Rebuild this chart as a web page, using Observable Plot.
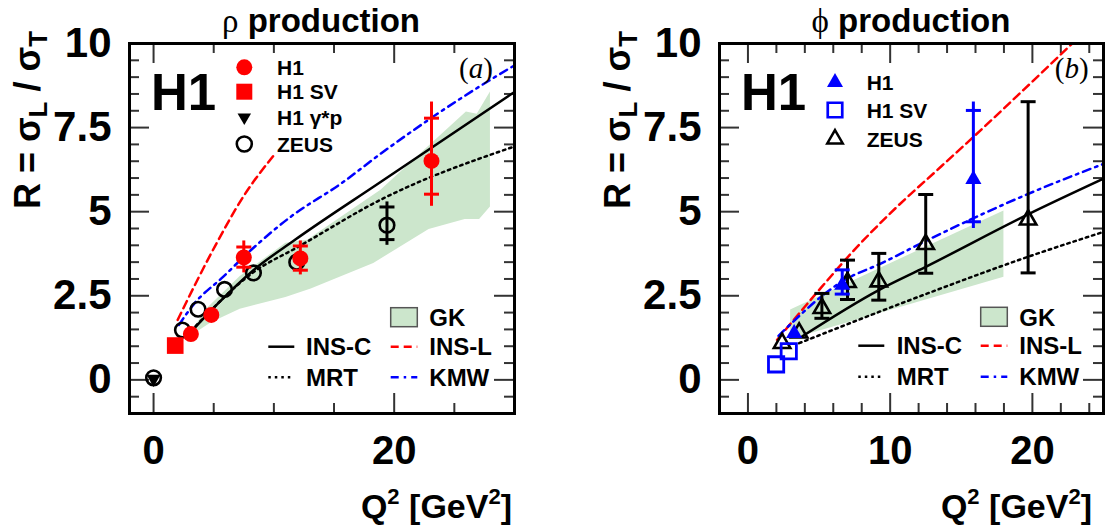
<!DOCTYPE html>
<html><head><meta charset="utf-8">
<script src="https://cdn.jsdelivr.net/npm/d3@7"></script>
<script src="https://cdn.jsdelivr.net/npm/@observablehq/plot@0.6"></script>
<style>
body{margin:0;background:#fff;}
#wrap{position:relative;width:1107px;height:529px;overflow:hidden;background:#fff;}
#wrap svg{position:absolute;top:0;}
</style></head><body><div id="wrap"></div>
<script>
// ---------------- Panel (a): rho production ----------------
const rhoH1Q2      = [3.1, 4.8, 7.5, 12.2, 23.1];
const rhoH1R       = [1.36, 1.93, 3.64, 3.61, 6.51];
const rhoH1StatLo  = [null, null, 3.35, 3.26, 5.52];
const rhoH1StatHi  = [null, null, 3.95, 3.98, 7.78];
const rhoH1TotLo   = [null, null, 3.18, 3.12, 5.16];
const rhoH1TotHi   = [null, null, 4.13, 4.13, 8.26];
const rhoSVQ2 = [1.8];
const rhoSVR  = [1.02];
const rhoGpQ2 = [0];
const rhoGpR  = [0.03];
const rhoZeusQ2     = [0, 2.4, 3.7, 5.9, 8.3, 11.9, 19.4];
const rhoZeusR      = [0.06, 1.48, 2.1, 2.69, 3.18, 3.5, 4.6];
const rhoZeusStatLo = [null, null, null, null, null, null, 4.17];
const rhoZeusStatHi = [null, null, null, null, null, null, 5.14];
const rhoZeusTotLo  = [null, null, null, null, null, null, 4.0];
const rhoZeusTotHi  = [null, null, null, null, null, null, 5.29];
const rhoInsCQ2 = [3.3, 5.3, 8.3, 11.7, 18.9, 30];
const rhoInsCR  = [1.5, 2.25, 3.26, 4.15, 5.89, 8.56];
const rhoMrtQ2  = [3.5, 8.3, 12, 18.9, 30];
const rhoMrtR   = [1.6, 3.2, 3.95, 5.36, 6.94];
const rhoInsLQ2 = [2.0, 5.1, 7.5, 10];
const rhoInsLR  = [1.78, 3.97, 5.47, 6.68];
const rhoKmwQ2  = [2.1, 3.3, 5.8, 8.1, 11.4, 15.6, 18.9, 27.9, 30];
const rhoKmwR   = [1.63, 2.23, 3.07, 3.86, 4.85, 5.84, 6.73, 8.9, 9.35];
const rhoGkUpQ2 = [3.1, 4.4, 7.2, 11, 12.8, 18.9, 22.5, 26, 26.9, 28];
const rhoGkUpR  = [1.4, 2.1, 3.07, 4.06, 4.15, 5.64, 6.82, 7.96, 7.9, 8.56];
const rhoGkLoQ2 = [3.1, 4.8, 7.2, 11, 13.1, 18.3, 22.9, 25.9, 27.1, 28];
const rhoGkLoR  = [1.3, 1.7, 2.1, 2.45, 2.7, 3.46, 4.47, 4.77, 4.77, 5.14];

// ---------------- Panel (b): phi production ----------------
const phiH1Q2     = [3.25, 6.63, 15.85];
const phiH1R      = [1.38, 2.82, 5.96];
const phiH1StatLo = [null, 2.55, 4.7];
const phiH1StatHi = [null, 3.27, 8.01];
const phiH1TotLo  = [null, 2.55, 4.5];
const phiH1TotHi  = [null, 3.27, 8.26];
const phiSVQ2 = [1.98, 2.87];
const phiSVR  = [0.46, 0.85];
const phiZeusQ2 = [2.4, 3.6, 5.2, 7.0, 9.2, 12.5, 19.7];
const phiZeusR  = [1.09, 1.40, 2.13, 2.90, 2.92, 4.03, 4.76];
const phiZeusLo = [null, null, 1.83, 2.39, 2.37, 3.17, 3.18];
const phiZeusHi = [null, null, 2.57, 3.56, 3.76, 5.51, 8.27];
const phiInsCQ2 = [3.8, 9.2, 12.5, 19.7, 25];
const phiInsCR  = [1.29, 2.67, 3.36, 4.92, 5.98];
const phiMrtQ2  = [3.6, 12.5, 19.7, 25];
const phiMrtR   = [1.09, 2.55, 3.66, 4.4];
const phiInsLQ2 = [2.05, 5.1, 7.45, 10, 13.6, 16, 19.4, 22.8];
const phiInsLR  = [1.19, 2.72, 3.85, 4.95, 6.35, 7.28, 8.63, 10.0];
const phiKmwQ2  = [2.15, 6.8, 9.3, 12.6, 20.1, 25];
const phiKmwR   = [1.31, 2.97, 3.45, 4.15, 5.6, 6.42];
const phiGkUpQ2 = [3.0, 18.0];
const phiGkUpR  = [2.08, 5.02];
const phiGkLoQ2 = [3.0, 18.0];
const phiGkLoR  = [1.2, 3.05];

// tick values
const yLabelTicks = [0, 2.5, 5, 7.5, 10];
const rhoXLabelTicks = [0, 20];
const phiXLabelTicks = [0, 10, 20];

// ---------------- helpers ----------------
const SANS = "'Liberation Sans', Arial, Helvetica, sans-serif";
const SERIF = "'Liberation Serif', 'Times New Roman', serif";
const RED = "#ff0000", BLUE = "#0000ff", GREEN = "#cce6cc";
const zip = (q, r, o = {}) => q.map((d, i) => {
  const row = {q: d, r: r[i]};
  for (const k in o) row[k] = o[k][i];
  return row;
});
const pts = (q, r) => q.map((d, i) => ({q: d, r: r[i]}));
const hcap = {draw(ctx, size) { const w = Math.sqrt(size / Math.PI); ctx.moveTo(-w, 0); ctx.lineTo(w, 0); }};

function errMarks(data, color) {
  const withTot = data.filter(d => d.tLo != null);
  const withStat = data.filter(d => d.sLo != null);
  return [
    Plot.ruleX(withTot, {x: "q", y1: "tLo", y2: "tHi", stroke: color, strokeWidth: 3}),
    Plot.dot(withStat, {x: "q", y: "sLo", symbol: hcap, r: 7.5, stroke: color, strokeWidth: 3, fill: "none"}),
    Plot.dot(withStat, {x: "q", y: "sHi", symbol: hcap, r: 7.5, stroke: color, strokeWidth: 3, fill: "none"})
  ];
}
function curveMarks(c) {
  return [
    Plot.line(c.insC, {x: "q", y: "r", stroke: "black", strokeWidth: 2.5, curve: "monotone-x", clip: true}),
    Plot.line(c.mrt, {x: "q", y: "r", stroke: "black", strokeWidth: 2.5, strokeDasharray: "2.5,4", curve: "monotone-x", clip: true}),
    Plot.line(c.insL, {x: "q", y: "r", stroke: RED, strokeWidth: 2.5, strokeDasharray: "8,5", curve: "monotone-x", clip: true}),
    Plot.line(c.kmw, {x: "q", y: "r", stroke: BLUE, strokeWidth: 2.5, strokeDasharray: "8,5,2.5,5", curve: "monotone-x", clip: true})
  ];
}

function panel(cfg) {
  const H = 529;
  const fh = H - cfg.mt - cfg.mb, fw = cfg.width - cfg.ml - cfg.mr;
  const ts = {stroke: "#333", strokeWidth: 2};
  const yMinor = d3.range(-0.5, 10, 0.5).filter(v => Math.abs(v % 2.5) > 1e-9);
  const yMajor = [0, 2.5, 5, 7.5];
  const gk = cfg.gkUp.map((u, i) => ({x1: u.q, y1: u.r, x2: cfg.gkLo[i].q, y2: cfg.gkLo[i].r}));
  const marks = [
    Plot.area(gk, {x1: "x1", y1: "y1", x2: "x2", y2: "y2", fill: GREEN, curve: "linear"}),
    Plot.tickX(cfg.xMajor, {x: d => d, insetTop: fh - 20, ...ts}),
    Plot.tickX(cfg.xMajor, {x: d => d, insetBottom: fh - 20, ...ts}),
    Plot.tickX(cfg.xMinor, {x: d => d, insetTop: fh - 10, ...ts}),
    Plot.tickX(cfg.xMinor, {x: d => d, insetBottom: fh - 10, ...ts}),
    Plot.tickY(yMajor, {y: d => d, insetRight: fw - 20, ...ts}),
    Plot.tickY(yMajor, {y: d => d, insetLeft: fw - 20, ...ts}),
    Plot.tickY(yMinor, {y: d => d, insetRight: fw - 10, ...ts}),
    Plot.tickY(yMinor, {y: d => d, insetLeft: fw - 10, ...ts}),
    ...curveMarks(cfg.curves),
    ...cfg.data,
    Plot.frame({stroke: "black", strokeWidth: 3}),
    Plot.axisX({ticks: cfg.xLabels, tickSize: 0, tickPadding: 22, fontSize: 40, fontWeight: "bold", label: null, tickFormat: d => String(d)}),
    Plot.axisY({ticks: yLabelTicks, tickSize: 0, tickPadding: 18, fontSize: 42, fontWeight: "bold", label: null, tickFormat: d => String(d)})
  ];
  return Plot.plot({
    width: cfg.width, height: H,
    marginTop: cfg.mt, marginBottom: cfg.mb, marginLeft: cfg.ml, marginRight: cfg.mr,
    x: {domain: cfg.xDomain, label: null},
    y: {domain: [-1, 10], label: null},
    style: {background: "transparent", fontFamily: SANS, fontWeight: "bold", color: "black", overflow: "visible"},
    marks
  });
}

function sym(type, x, y, side, opts) {
  let size;
  if (type === d3.symbolCircle) size = Math.PI * (side / 2) ** 2;
  else if (type === d3.symbolSquare) size = side * side;
  else size = Math.sqrt(3) / 4 * side * side;
  const p = d3.symbol(type, size)();
  return `<path d="${p}" transform="translate(${x},${y})${opts.rot ? ' rotate(' + opts.rot + ')' : ''}" fill="${opts.fill || 'none'}" stroke="${opts.stroke || 'none'}" stroke-width="${opts.sw || 0}"/>`;
}

function overlay(svg, o) {
  const legTop = o.top.map((t, i) =>
    sym(t.type, o.topX, o.topY[i], t.side, t) +
    `<text x="${o.topTextX}" y="${o.topY[i] + 7.5}" font-size="21" font-weight="bold">${t.label}</text>`).join("");
  const L = o.bot;
  const line = (x1, x2, y, st, dash) => `<line x1="${x1}" x2="${x2}" y1="${y}" y2="${y}" stroke="${st}" stroke-width="2.5" ${dash ? 'stroke-dasharray="' + dash + '"' : ''}/>`;
  const txt = (x, y, s) => `<text x="${x}" y="${y}" font-size="24" font-weight="bold">${s}</text>`;
  const html = `
  <g font-family="${SANS}" fill="black" text-anchor="start">
    <text x="${o.titleX}" y="32" text-anchor="middle" font-size="33" font-weight="bold"><tspan font-family="${SERIF}" font-weight="normal">${o.greek}</tspan> production</text>
    <text transform="translate(${o.ylabX},120) rotate(-90)" text-anchor="middle" font-size="36" font-weight="bold">R = σ<tspan font-size="26" dy="7">L</tspan><tspan dy="-7"> / σ</tspan><tspan font-size="26" dy="7">T</tspan></text>
    <text x="${o.xlabX}" y="518" text-anchor="end" font-size="34" font-weight="bold">Q<tspan font-size="22" dy="-14">2</tspan><tspan dy="14"> [GeV</tspan><tspan font-size="22" dy="-14">2</tspan><tspan dy="14">]</tspan></text>
    <text x="${o.h1X}" y="110" font-size="51" font-weight="bold">H1</text>
    <text x="${o.tagX}" y="78" text-anchor="middle" font-size="29" font-family="${SERIF}" font-weight="normal">(<tspan font-style="italic">${o.tag}</tspan>)</text>
    ${legTop}
    <rect x="${L.bx}" y="${L.by}" width="26.6" height="19" fill="${GREEN}" stroke="#555" stroke-width="1.5"/>
    ${txt(L.tx2, L.by + 18.5, "GK")}
    ${line(L.lx1, L.lx1 + 26, L.r1, "black", null)}
    ${txt(L.tx1, L.r1 + 8.6, "INS-C")}
    ${line(L.bx, L.bx + 26.6, L.r1, RED, "8,5")}
    ${txt(L.tx2, L.r1 + 8.6, "INS-L")}
    ${line(L.lx1, L.lx1 + 26, L.r2, "black", "2.5,4")}
    ${txt(L.tx1, L.r2 + 8.6, "MRT")}
    ${line(L.bx, L.bx + 26.6, L.r2, BLUE, "8,5,2.5,5")}
    ${txt(L.tx2, L.r2 + 8.6, "KMW")}
  </g>`;
  d3.select(svg).append("g").html(html);
}

// ---------------- build panel (a) ----------------
const rhoH1 = zip(rhoH1Q2, rhoH1R, {sLo: rhoH1StatLo, sHi: rhoH1StatHi, tLo: rhoH1TotLo, tHi: rhoH1TotHi});
const rhoZeus = zip(rhoZeusQ2, rhoZeusR, {sLo: rhoZeusStatLo, sHi: rhoZeusStatHi, tLo: rhoZeusTotLo, tHi: rhoZeusTotHi});
const svgA = panel({
  width: 560, mt: 43, mb: 116, ml: 129, mr: 46,
  xDomain: [-2, 30], xMajor: [0, 20], xMinor: [5, 10, 15, 25], xLabels: rhoXLabelTicks,
  gkUp: pts(rhoGkUpQ2, rhoGkUpR), gkLo: pts(rhoGkLoQ2, rhoGkLoR),
  curves: {insC: pts(rhoInsCQ2, rhoInsCR), mrt: pts(rhoMrtQ2, rhoMrtR), insL: pts(rhoInsLQ2, rhoInsLR), kmw: pts(rhoKmwQ2, rhoKmwR)},
  data: [
    ...errMarks(rhoZeus, "black"),
    Plot.dot(rhoZeus, {x: "q", y: "r", r: 7.3, stroke: "black", strokeWidth: 2.6, fill: "none"}),
    Plot.dot(pts(rhoGpQ2, rhoGpR), {x: "q", y: "r", symbol: "triangle", rotate: 180, r: 5.2, fill: "black"}),
    Plot.dot(pts(rhoSVQ2, rhoSVR), {x: "q", y: "r", symbol: "square", r: 9.4, fill: RED}),
    ...errMarks(rhoH1, RED),
    Plot.dot(rhoH1, {x: "q", y: "r", r: 8, fill: RED})
  ]
});
svgA.style.left = "0px";
overlay(svgA, {
  greek: "ρ", titleX: 321, ylabX: 40, xlabX: 512, h1X: 151, tagX: 476, tag: "a",
  topX: 244.3, topY: [67.3, 91.7, 117.3, 144], topTextX: 277,
  top: [
    {type: d3.symbolCircle, side: 16, fill: RED, label: "H1"},
    {type: d3.symbolSquare, side: 16, fill: RED, label: "H1 SV"},
    {type: d3.symbolTriangle, side: 13.5, fill: "black", rot: 180, label: "H1 γ*p"},
    {type: d3.symbolCircle, side: 15, stroke: "black", sw: 2.6, label: "ZEUS"}
  ],
  bot: {bx: 390.7, by: 307.7, tx2: 429.3, lx1: 268.3, tx1: 306, r1: 346.7, r2: 377.3}
});

// ---------------- build panel (b) ----------------
const phiH1 = zip(phiH1Q2, phiH1R, {sLo: phiH1StatLo, sHi: phiH1StatHi, tLo: phiH1TotLo, tHi: phiH1TotHi});
const phiZeus = zip(phiZeusQ2, phiZeusR, {sLo: phiZeusLo, sHi: phiZeusHi, tLo: phiZeusLo, tHi: phiZeusHi});
const svgB = panel({
  width: 547, mt: 43, mb: 116, ml: 159, mr: 4,
  xDomain: [-2, 25], xMajor: [0, 10, 20], xMinor: [2, 4, 6, 8, 12, 14, 16, 18, 22, 24], xLabels: phiXLabelTicks,
  gkUp: pts(phiGkUpQ2, phiGkUpR), gkLo: pts(phiGkLoQ2, phiGkLoR),
  curves: {insC: pts(phiInsCQ2, phiInsCR), mrt: pts(phiMrtQ2, phiMrtR), insL: pts(phiInsLQ2, phiInsLR), kmw: pts(phiKmwQ2, phiKmwR)},
  data: [
    ...errMarks(phiZeus, "black"),
    Plot.dot(phiZeus, {x: "q", y: "r", symbol: "triangle", r: 6.1, stroke: "black", strokeWidth: 2.6, fill: "none"}),
    Plot.dot(pts(phiSVQ2, phiSVR), {x: "q", y: "r", symbol: "square", r: 8.6, stroke: BLUE, strokeWidth: 2.8, fill: "none"}),
    ...errMarks(phiH1, BLUE),
    Plot.dot(phiH1, {x: "q", y: "r", symbol: "triangle", r: 6, fill: BLUE})
  ]
});
svgB.style.left = "560px";
overlay(svgB, {
  greek: "ϕ", titleX: 351, ylabX: 70, xlabX: 532, h1X: 181, tagX: 511.7, tag: "b",
  topX: 275, topY: [82.3, 110, 139], topTextX: 306.7,
  top: [
    {type: d3.symbolTriangle, side: 16, fill: BLUE, label: "H1"},
    {type: d3.symbolSquare, side: 14.5, stroke: BLUE, sw: 2.7, label: "H1 SV"},
    {type: d3.symbolTriangle, side: 15.5, stroke: "black", sw: 2.5, label: "ZEUS"}
  ],
  bot: {bx: 420.7, by: 307.3, tx2: 459.3, lx1: 298.3, tx1: 336.7, r1: 345.7, r2: 376.7}
});

const wrap = document.getElementById("wrap");
wrap.appendChild(svgA);
wrap.appendChild(svgB);
</script></body></html>
